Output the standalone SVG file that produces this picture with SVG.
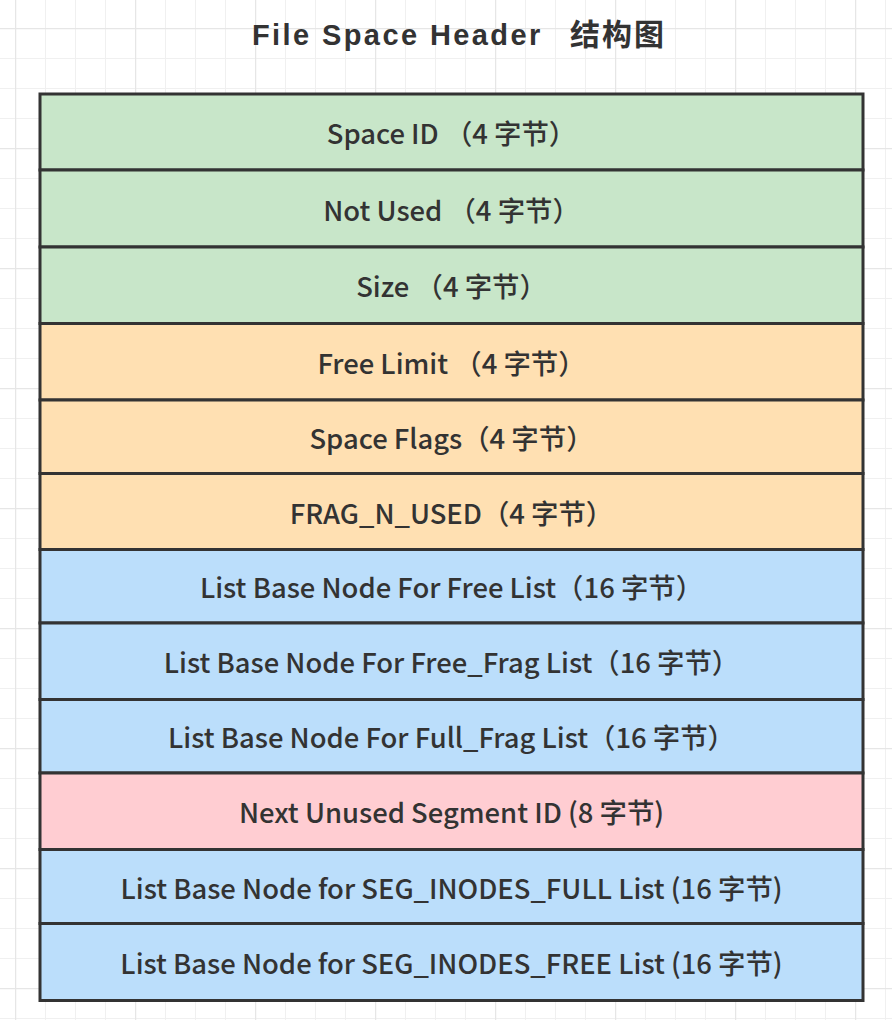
<svg xmlns="http://www.w3.org/2000/svg" width="892" height="1020" viewBox="0 0 892 1020">
<defs>
<pattern id="gmin" x="15" y="28" width="30" height="30" patternUnits="userSpaceOnUse">
<path d="M0.5 0V30M0 0.5H30" stroke="#f0f0f0" stroke-width="1" fill="none"/>
</pattern>
<pattern id="gmaj" x="15" y="28" width="120" height="120" patternUnits="userSpaceOnUse">
<path d="M0.5 0V120M0 0.5H120" stroke="#e6e6e6" stroke-width="1.5" fill="none"/>
</pattern>
<style>
.row{stroke:#333;stroke-width:3}
.g{fill:#c8e6c9}.o{fill:#ffe0b2}.b{fill:#bbdefb}.p{fill:#ffcdd2}
.t{font-family:"Noto Sans CJK SC","Noto Sans",sans-serif;font-size:27.4px;font-weight:500;fill:#333;text-anchor:middle}
.title{font-family:"Liberation Sans","Noto Sans CJK SC",sans-serif;font-size:29px;font-weight:bold;fill:#333;letter-spacing:2.4px}
.cjk{font-family:"Noto Sans CJK SC",sans-serif;font-size:30px;letter-spacing:2px}
</style>
</defs>
<rect width="892" height="1020" fill="#fff"/>
<rect width="892" height="1020" fill="url(#gmin)"/>
<rect width="892" height="1020" fill="url(#gmaj)"/>
<text class="title" y="44.5"><tspan x="252">File Space Header </tspan><tspan class="cjk" x="570">结构图</tspan></text>
<g id="n1"><rect class="row g" x="40" y="94" width="823" height="76"/><text class="t" x="451.5" y="144">Space ID （4 字节）</text></g>
<g id="n2"><rect class="row g" x="40" y="170" width="823" height="77"/><text class="t" x="451.5" y="220.5">Not Used （4 字节）</text></g>
<g id="n3"><rect class="row g" x="40" y="247" width="823" height="76.5"/><text class="t" x="451.5" y="297.3">Size （4 字节）</text></g>
<g id="n4"><rect class="row o" x="40" y="323.5" width="823" height="76.5"/><text class="t" x="451.5" y="373.8">Free Limit （4 字节）</text></g>
<g id="n5"><rect class="row o" x="40" y="400" width="823" height="73.5"/><text class="t" x="451.5" y="448.8">Space Flags（4 字节）</text></g>
<g id="n6"><rect class="row o" x="40" y="473.5" width="823" height="76"/><text class="t" x="451.5" y="523.5">FRAG_N_USED（4 字节）</text></g>
<g id="n7"><rect class="row b" x="40" y="549.5" width="823" height="73.5"/><text class="t" x="451.5" y="598.3">List Base Node For Free List（16 字节）</text></g>
<g id="n8"><rect class="row b" x="40" y="623" width="823" height="76.5"/><text class="t" x="451.5" y="673.3">List Base Node For Free_Frag List（16 字节）</text></g>
<g id="n9"><rect class="row b" x="40" y="699.5" width="823" height="73.5"/><text class="t" x="451.5" y="748.3">List Base Node For Full_Frag List（16 字节）</text></g>
<g id="n10"><rect class="row p" x="40" y="773" width="823" height="76.5"/><text class="t" x="451.5" y="823.3">Next Unused Segment ID (8 字节)</text></g>
<g id="n11"><rect class="row b" x="40" y="849.5" width="823" height="74"/><text class="t" x="451.5" y="899">List Base Node for SEG_INODES_FULL List (16 字节)</text></g>
<g id="n12"><rect class="row b" x="40" y="923.5" width="823" height="77"/><text class="t" x="451.5" y="974">List Base Node for SEG_INODES_FREE List (16 字节)</text></g>
<g id="connectors"></g>
</svg>
